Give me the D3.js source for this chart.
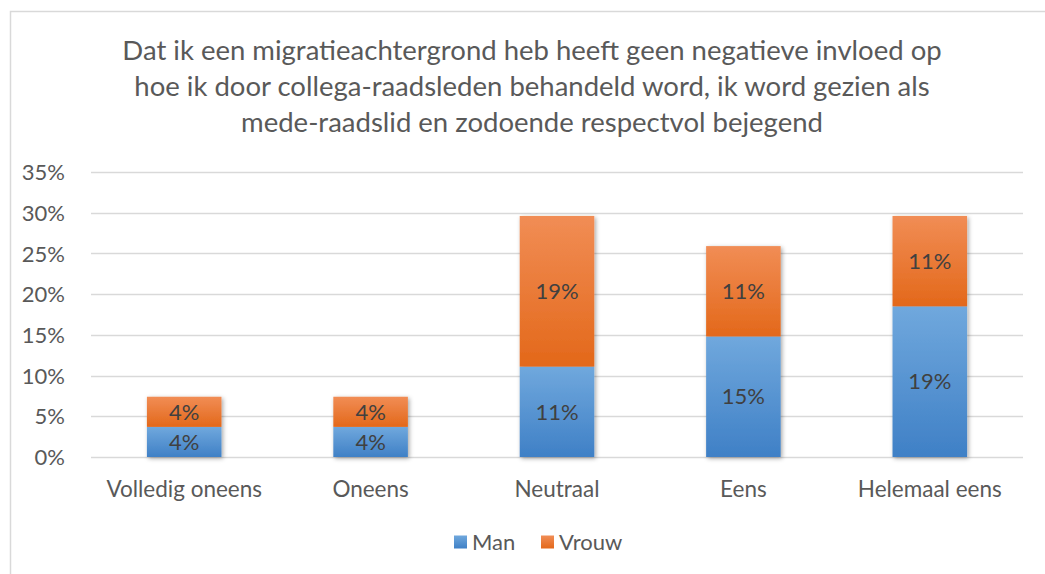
<!DOCTYPE html>
<html>
<head>
<meta charset="utf-8">
<script src="https://cdn.jsdelivr.net/npm/d3@7"></script>
<style>
  body { margin: 0; background: #fff; }
  svg text { font-family: "Lato", "Open Sans", sans-serif; fill: #595959; }
</style>
</head>
<body>
<div id="container"></div>
<script>
/* DATA */
const categories = ["Volledig oneens", "Oneens", "Neutraal", "Eens", "Helemaal eens"];
const man = [3.7, 3.7, 11.1, 14.8, 18.5];
const vrouw = [3.7, 3.7, 18.5, 11.1, 11.1];
const seriesNames = ["Man", "Vrouw"];
const yTicks = [0, 5, 10, 15, 20, 25, 30, 35];
const titleLines = [
  "Dat ik een migratieachtergrond heb heeft geen negatieve invloed op",
  "hoe ik door collega-raadsleden behandeld word, ik word gezien als",
  "mede-raadslid en zodoende respectvol bejegend"
];

/* CONSTANTS */
const width = 1045, height = 574;
const plot = { left: 91, right: 1023, top: 172, bottom: 457 };

const svg = d3.select("#container")
  .append("svg")
  .attr("width", width)
  .attr("height", height);

// gradients + shadow
const defs = svg.append("defs");
const grads = [
  { id: "gMan", top: "#70a8dd", bottom: "#3f80c6" },
  { id: "gVrouw", top: "#f18d55", bottom: "#e3681a" }
];
grads.forEach(g => {
  const lg = defs.append("linearGradient").attr("id", g.id)
    .attr("x1", 0).attr("y1", 0).attr("x2", 0).attr("y2", 1);
  lg.append("stop").attr("offset", "0%").attr("stop-color", g.top);
  lg.append("stop").attr("offset", "100%").attr("stop-color", g.bottom);
});
const f = defs.append("filter").attr("id", "shadow")
  .attr("x", "-20%").attr("y", "-20%").attr("width", "140%").attr("height", "140%");
f.append("feDropShadow").attr("dx", 1.5).attr("dy", 1.5).attr("stdDeviation", 2)
  .attr("flood-color", "#000").attr("flood-opacity", 0.35);

// frame
svg.append("path")
  .attr("d", `M10.5,${height} L10.5,11.5 L${width},11.5`)
  .attr("fill", "none").attr("stroke", "#d9d9d9").attr("stroke-width", 1.5);

// title
svg.append("g").selectAll("text")
  .data(titleLines)
  .enter().append("text")
  .attr("x", 532)
  .attr("y", (d, i) => 50 + i * 36)
  .attr("dy", "0.35em")
  .attr("text-anchor", "middle")
  .style("font-size", "27.5px")
  .text(d => d);

// SCALES
const x = d3.scaleBand()
  .domain(categories)
  .range([plot.left, plot.right])
  .paddingInner(0.6)
  .paddingOuter(0.3);

const y = d3.scaleLinear()
  .domain([0, 35])
  .range([plot.bottom, plot.top]);

// grid
svg.append("g")
  .selectAll("line")
  .data(yTicks)
  .enter().append("line")
  .attr("x1", plot.left).attr("x2", plot.right)
  .attr("y1", d => Math.round(y(d)) + 0.5).attr("y2", d => Math.round(y(d)) + 0.5)
  .attr("stroke", "#d9d9d9").attr("stroke-width", 1.5);

// y axis labels
const yAxis = svg.append("g")
  .attr("transform", `translate(${plot.left - 23},0)`)
  .call(d3.axisLeft(y).tickValues(yTicks).tickSize(0).tickFormat(d => d + "%"));
yAxis.select(".domain").remove();
yAxis.selectAll("text")
  .attr("dy", "0.35em")
  .style("font-size", "22px")
  .style("fill", "#595959");

// x axis labels
const xAxis = svg.append("g")
  .attr("transform", `translate(0,${plot.bottom + 32})`)
  .call(d3.axisBottom(x).tickSize(0));
xAxis.select(".domain").remove();
xAxis.selectAll("text")
  .attr("y", 0)
  .attr("dy", "0.35em")
  .style("font-size", "22.5px")
  .style("fill", "#595959");

// stacked data
const rows = categories.map((c, i) => ({ cat: c, Man: man[i], Vrouw: vrouw[i] }));
const stack = d3.stack().keys(seriesNames)(rows);
const fills = { Man: "url(#gMan)", Vrouw: "url(#gVrouw)" };

// bars (shadow on whole column group)
const barG = svg.append("g").attr("filter", "url(#shadow)");
stack.forEach(layer => {
  barG.selectAll(null)
    .data(layer)
    .enter().append("rect")
    .attr("x", d => x(d.data.cat))
    .attr("y", d => y(d[1]))
    .attr("width", x.bandwidth())
    .attr("height", d => y(d[0]) - y(d[1]))
    .attr("fill", fills[layer.key]);
});

// value labels
stack.forEach(layer => {
  svg.append("g").selectAll("text")
    .data(layer)
    .enter().append("text")
    .attr("x", d => x(d.data.cat) + x.bandwidth() / 2)
    .attr("y", d => (y(d[0]) + y(d[1])) / 2)
    .attr("dy", "0.35em")
    .attr("text-anchor", "middle")
    .style("font-size", "22px")
    .style("fill", "#404040")
    .text(d => Math.round(d[1] - d[0]) + "%");
});

// legend
const legend = svg.append("g").attr("transform", "translate(454,542)");
const legendX = [0, 87];
seriesNames.forEach((s, i) => {
  const g = legend.append("g").attr("transform", `translate(${legendX[i]},0)`);
  g.append("rect").attr("x", 0).attr("y", -6.5).attr("width", 13).attr("height", 13)
    .attr("fill", fills[s]);
  g.append("text").attr("x", 18).attr("y", 0).attr("dy", "0.35em")
    .style("font-size", "22px").text(s);
});
</script>
</body>
</html>
